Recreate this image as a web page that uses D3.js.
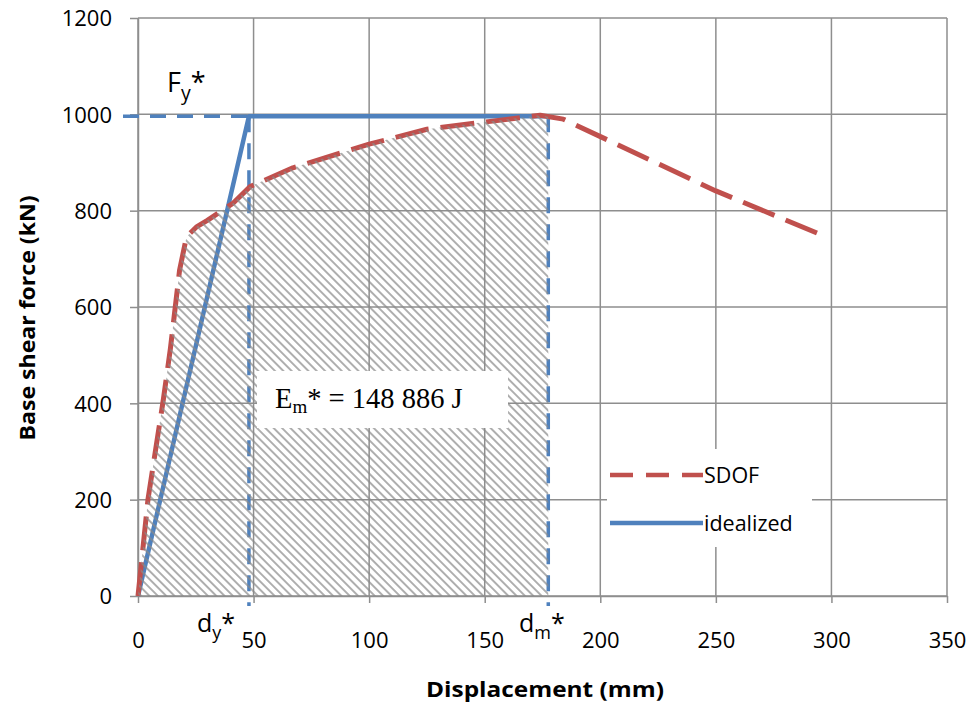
<!DOCTYPE html>
<html><head><meta charset="utf-8">
<script src="https://cdn.jsdelivr.net/npm/d3@7"></script>
<style>body{margin:0;background:#fff}</style>
</head><body>
<svg id="c" width="974" height="710" xmlns="http://www.w3.org/2000/svg"></svg>
<script>
// ---- data ----
const sdofX = [0, 4.3, 11, 14, 18, 21, 25.5, 30, 41, 48.5, 67, 100, 125, 150, 174, 184, 250, 297];
const sdofY = [0, 200, 409, 513, 677, 746, 767, 780, 815, 850, 889, 938, 969, 984, 998, 990, 841, 747];
const idealX = [0, 48, 177.5];
const idealY = [0, 996, 996];
const Fy = 996, dyVal = 48, dmVal = 177.5;
const xTicks = [0, 50, 100, 150, 200, 250, 300, 350];
const yTicks = [0, 200, 400, 600, 800, 1000, 1200];
const seriesNames = ["SDOF", "idealized"];
const energyValue = "148 886 J";

// ---- chart ----
const RED = "#c0504d", BLUE = "#4f81bd", GRID = "#8e8e8e";
const FONT = "'Open Sans', sans-serif";
const svg = d3.select("#c");
svg.append("rect").attr("width", 974).attr("height", 710).attr("fill", "#fff");
const x = d3.scaleLinear().domain([0, 350]).range([138, 947]);
const y = d3.scaleLinear().domain([0, 1200]).range([596, 18]);

const defs = svg.append("defs");
const pat = defs.append("pattern").attr("id", "hatch")
  .attr("patternUnits", "userSpaceOnUse").attr("width", 10).attr("height", 5.9)
  .attr("patternTransform", "rotate(45)");
pat.append("line").attr("x1", -1).attr("x2", 11).attr("y1", 2.95).attr("y2", 2.95)
  .attr("stroke", "#8a8a8a").attr("stroke-width", 1.6).attr("stroke-opacity", 0.85);

// grid
svg.append("g").selectAll("line").data(xTicks).join("line")
  .attr("x1", d => x(d)).attr("x2", d => x(d)).attr("y1", y(0)).attr("y2", y(1200))
  .attr("stroke", GRID).attr("stroke-width", 1.5);
svg.append("g").selectAll("line").data(yTicks).join("line")
  .attr("y1", d => y(d)).attr("y2", d => y(d)).attr("x1", x(0)).attr("x2", x(350))
  .attr("stroke", GRID).attr("stroke-width", 1.5);

// axes
const gx = svg.append("g").attr("transform", `translate(0,${y(0)})`)
  .call(d3.axisBottom(x).tickValues(xTicks).tickSize(7).tickSizeOuter(0).tickFormat(d3.format("d")));
gx.selectAll("text").attr("y", 52).attr("dy", null);
const gy = svg.append("g").attr("transform", `translate(${x(0)},0)`)
  .call(d3.axisLeft(y).tickValues(yTicks).tickSize(8).tickSizeOuter(0).tickFormat(d3.format("d")));
gy.selectAll("text").attr("x", -26).attr("dy", "0.36em");
[gx, gy].forEach(g => {
  g.select(".domain").attr("stroke", GRID).attr("stroke-width", 1.5);
  g.selectAll(".tick line").attr("stroke", GRID).attr("stroke-width", 1.5);
  g.selectAll("text").attr("font-family", FONT).attr("font-size", 22).attr("fill", "#000");
});

// reference dashed lines
const dashStyle = s => s.attr("stroke", BLUE).attr("stroke-width", 3.5).attr("stroke-dasharray", "16,11").attr("fill", "none");
svg.append("line").attr("x1", x(0) - 15).attr("x2", x(dyVal)).attr("y1", y(Fy)).attr("y2", y(Fy)).call(dashStyle);
svg.append("line").attr("x1", x(dyVal)).attr("x2", x(dyVal)).attr("y1", y(Fy)).attr("y2", y(0) + 10).call(dashStyle);
svg.append("line").attr("x1", x(dmVal)).attr("x2", x(dmVal)).attr("y1", y(Fy)).attr("y2", y(0) + 10).call(dashStyle);

// series
const sdof = sdofX.map((d, i) => [d, sdofY[i]]);
const ideal = idealX.map((d, i) => [d, idealY[i]]);
const line = d3.line().x(d => x(d[0])).y(d => y(d[1]));
svg.append("path").datum(ideal).attr("d", line).attr("fill", "none")
  .attr("stroke", BLUE).attr("stroke-width", 4.5).attr("stroke-linejoin", "round");
svg.append("path").datum(sdof).attr("d", line).attr("fill", "none")
  .attr("stroke", RED).attr("stroke-width", 5).attr("stroke-dasharray", "34,12").attr("stroke-linejoin", "round");

// hatched energy area under SDOF up to dm
const under = sdof.filter(p => p[0] <= dmVal);
const k = sdof.findIndex(p => p[0] > dmVal);
const a = sdof[k - 1], b = sdof[k];
under.push([dmVal, a[1] + (b[1] - a[1]) * (dmVal - a[0]) / (b[0] - a[0])]);
svg.append("path").datum(under)
  .attr("d", d3.area().x(d => x(d[0])).y0(y(0)).y1(d => y(d[1])))
  .attr("fill", "url(#hatch)");

// energy box
svg.append("rect").attr("x", 257).attr("y", 371).attr("width", 251).attr("height", 57).attr("fill", "#fff");
const et = svg.append("text").attr("x", 275).attr("y", 408)
  .attr("font-family", "'Liberation Serif', 'Times New Roman', serif").attr("font-size", 28.5).attr("fill", "#000");
et.append("tspan").text("E");
et.append("tspan").attr("font-size", 19).attr("dy", 5).text("m");
et.append("tspan").attr("dy", -5).text("* = " + energyValue);

// point labels
function starLabel(px, py, main, sub, size) {
  const t = svg.append("text").attr("x", px).attr("y", py).attr("font-family", FONT)
    .attr("font-size", size).attr("fill", "#000");
  t.append("tspan").text(main);
  t.append("tspan").attr("font-size", size * 0.72).attr("dy", size * 0.28).text(sub);
  t.append("tspan").attr("dy", -size * 0.28).text("*");
}
starLabel(167, 92, "F", "y", 27);
starLabel(197, 632, "d", "y", 25);
starLabel(519, 632, "d", "m", 25);

// axis titles
svg.append("text").attr("x", 545).attr("y", 697).attr("text-anchor", "middle")
  .attr("font-family", FONT).attr("font-weight", "bold").attr("font-size", 21)
  .attr("textLength", 238).attr("lengthAdjust", "spacingAndGlyphs").text("Displacement (mm)");
svg.append("text").attr("transform", "translate(35,318) rotate(-90)").attr("text-anchor", "middle")
  .attr("font-family", FONT).attr("font-weight", "bold").attr("font-size", 21)
  .attr("textLength", 245).attr("lengthAdjust", "spacingAndGlyphs").text("Base shear force (kN)");

// legend
svg.append("rect").attr("x", 607).attr("y", 449).attr("width", 205).attr("height", 98).attr("fill", "#fff");
const lg = svg.append("g");
lg.append("line").attr("x1", 610).attr("x2", 703).attr("y1", 475).attr("y2", 475)
  .attr("stroke", RED).attr("stroke-width", 4.5).attr("stroke-dasharray", "23,13");
lg.append("line").attr("x1", 610).attr("x2", 703).attr("y1", 523).attr("y2", 523)
  .attr("stroke", BLUE).attr("stroke-width", 4.5);
lg.selectAll("text").data(seriesNames).join("text")
  .attr("x", 704).attr("y", (d, i) => 475 + i * 48).attr("dy", "0.36em")
  .attr("font-family", FONT).attr("font-size", 21.5).attr("fill", "#000").text(d => d);
</script>
</body></html>
